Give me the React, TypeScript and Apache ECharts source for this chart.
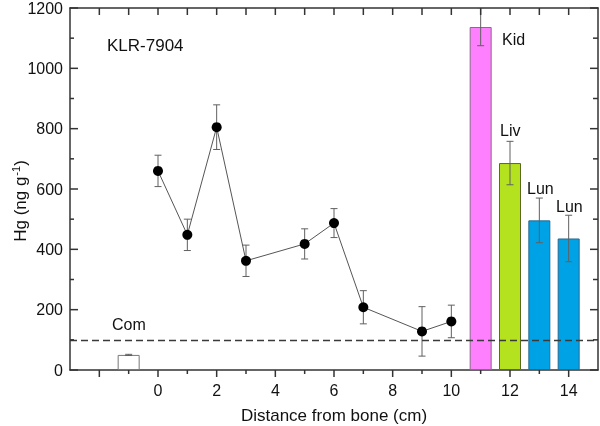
import React, { useEffect, useRef } from "react";
import * as echarts from "echarts";

const pointX = [0, 1, 2, 3, 5, 6, 7, 9, 10];
const pointY = [660, 448, 805, 362, 418, 487, 208, 128, 161];
const pointErr = [52, 52, 74, 52, 50, 48, 55, 82, 54];

const barX = [-1, 11, 12, 13, 14];
const barY = [50, 1137, 686, 496, 436];
const barErr = [2, 62, 72, 74, 77];
const barColors = ["#ffffff", "#ff80ff", "#b5e21e", "#00a2e6", "#00a2e6"];
const barBorders = ["#777777", "#8a6a8a", "#5a6a20", "#2a6a90", "#2a6a90"];

const refLine = 100;
const xMin = -3;
const xMax = 15;
const yMin = 0;
const yMax = 1200;
const xMajorTicks = [-2, 0, 2, 4, 6, 8, 10, 12, 14];
const xMinorTicks = [-1, 1, 3, 5, 7, 9, 11, 13];
const xLabels = [0, 2, 4, 6, 8, 10, 12, 14];
const xTopTicks = [-2, -1, 0, 1, 2, 3, 4, 5, 6, 7, 8, 9, 10, 11, 12, 13, 14];
const yMajorTicks = [0, 200, 400, 600, 800, 1000, 1200];
const yMinorTicks = [100, 300, 500, 700, 900, 1100];

const FONT = "Liberation Sans, Arial, sans-serif";
const AX = "#333333";

// tick anchors on the axes: [x, y, side (0 bottom, 1 top, 2 left, 3 right), length]
const tickData: number[][] = [
  ...xMajorTicks.map((v) => [v, yMin, 0, 7]),
  ...xMinorTicks.map((v) => [v, yMin, 0, 4]),
  ...xTopTicks.map((v) => [v, yMax, 1, 7]),
  ...yMajorTicks.map((v) => [xMin, v, 2, 8]),
  ...yMinorTicks.map((v) => [xMin, v, 2, 4]),
  ...yMajorTicks.map((v) => [xMax, v, 3, 8]),
  ...yMinorTicks.map((v) => [xMax, v, 3, 5]),
];

export default function App() {
  const ref = useRef<HTMLDivElement>(null);
  useEffect(() => {
    document.body.style.margin = "0";
    const chart = echarts.init(ref.current!, null, { renderer: "svg" });
    const errRender = (params: any, api: any) => {
      const x = api.value(0);
      const y = api.value(1);
      const e = api.value(2);
      const t = api.coord([x, y + e]);
      const b = api.coord([x, y - e]);
      const w = 3.5;
      const st = { stroke: "#606060", lineWidth: 1 };
      return {
        type: "group",
        children: [
          { type: "line", shape: { x1: t[0], y1: t[1], x2: b[0], y2: b[1] }, style: st },
          { type: "line", shape: { x1: t[0] - w, y1: t[1], x2: t[0] + w, y2: t[1] }, style: st },
          { type: "line", shape: { x1: b[0] - w, y1: b[1], x2: b[0] + w, y2: b[1] }, style: st },
        ],
      };
    };
    const tickRender = (params: any, api: any) => {
      const p = api.coord([api.value(0), api.value(1)]);
      const side = api.value(2);
      const len = api.value(3);
      const st = { stroke: AX, lineWidth: 1.5 };
      let x2 = p[0];
      let y2 = p[1];
      if (side === 0 || side === 1) y2 = p[1] + len;
      else if (side === 2) x2 = p[0] + len;
      else x2 = p[0] - len;
      return { type: "line", shape: { x1: p[0], y1: p[1], x2, y2 }, style: st };
    };
    const lineStyleAx = { color: AX, width: 1.5 };
    const option: any = {
      animation: false,
      grid: { left: 70, right: 2, top: 6, bottom: 56 },
      xAxis: [
        {
          type: "value",
          min: xMin,
          max: xMax,
          position: "bottom",
          axisLine: { show: true, onZero: false, lineStyle: lineStyleAx },
          splitLine: { show: false },
          axisTick: { show: false },
          axisLabel: { customValues: xLabels, fontSize: 16, color: "#111", margin: 12, fontFamily: FONT },
        },
        {
          type: "value",
          min: xMin,
          max: xMax,
          position: "top",
          axisLine: { show: true, onZero: false, lineStyle: lineStyleAx },
          splitLine: { show: false },
          axisTick: { show: false },
          axisLabel: { show: false },
        },
      ],
      yAxis: [
        {
          type: "value",
          min: yMin,
          max: yMax,
          interval: 200,
          position: "left",
          axisLine: { show: true, onZero: false, lineStyle: lineStyleAx },
          splitLine: { show: false },
          axisTick: { show: false },
          axisLabel: { fontSize: 16, color: "#111", margin: 7, fontFamily: FONT, formatter: (v: number) => String(v) },
        },
        {
          type: "value",
          min: yMin,
          max: yMax,
          interval: 200,
          position: "right",
          axisLine: { show: true, onZero: false, lineStyle: lineStyleAx },
          splitLine: { show: false },
          axisTick: { show: false },
          axisLabel: { show: false },
        },
      ],
      series: [
        {
          type: "bar",
          barWidth: 22,
          z: 2,
          data: barX.map((x, i) => ({
            value: [x, barY[i]],
            itemStyle: { color: barColors[i], borderColor: barBorders[i], borderWidth: 1 },
          })),
        },
        {
          type: "custom",
          z: 3,
          renderItem: errRender,
          encode: { x: 0, y: 1 },
          data: barX.map((x, i) => [x, barY[i], barErr[i]]),
        },
        {
          type: "custom",
          z: 3,
          renderItem: errRender,
          encode: { x: 0, y: 1 },
          data: pointX.map((x, i) => [x, pointY[i], pointErr[i]]),
        },
        {
          type: "line",
          z: 4,
          symbol: "circle",
          symbolSize: 10,
          itemStyle: { color: "#000" },
          lineStyle: { color: "#555", width: 1 },
          data: pointX.map((x, i) => [x, pointY[i]]),
          markLine: {
            silent: true,
            symbol: "none",
            label: { show: false },
            lineStyle: { color: "#3a3a3a", width: 1.3, type: [7, 4] },
            data: [{ yAxis: refLine }],
          },
        },
        {
          type: "custom",
          z: 5,
          silent: true,
          clip: false,
          renderItem: tickRender,
          encode: { x: 0, y: 1 },
          data: tickData,
        },
      ],
      graphic: [
        { type: "text", left: 107, top: 37, style: { text: "KLR-7904", fontSize: 17, fill: "#111", fontFamily: FONT } },
        { type: "text", left: 112, top: 316, style: { text: "Com", fontSize: 16, fill: "#111", fontFamily: FONT } },
        { type: "text", left: 502, top: 31, style: { text: "Kid", fontSize: 16, fill: "#111", fontFamily: FONT } },
        { type: "text", left: 500, top: 122, style: { text: "Liv", fontSize: 16, fill: "#111", fontFamily: FONT } },
        { type: "text", left: 527, top: 180, style: { text: "Lun", fontSize: 16, fill: "#111", fontFamily: FONT } },
        { type: "text", left: 556, top: 198, style: { text: "Lun", fontSize: 16, fill: "#111", fontFamily: FONT } },
        {
          type: "text",
          x: 334,
          y: 415,
          style: { text: "Distance from bone (cm)", fontSize: 17, fill: "#111", fontFamily: FONT, textAlign: "center", textVerticalAlign: "middle" },
        },
        {
          type: "text",
          x: 20,
          y: 201,
          rotation: Math.PI / 2,
          style: {
            text: "{a|Hg (ng g}{s|-1}{a|)}",
            textAlign: "center",
            textVerticalAlign: "middle",
            fill: "#111",
            fontFamily: FONT,
            rich: {
              a: { fontSize: 17, fontFamily: FONT, fill: "#111" },
              s: { fontSize: 11, fontFamily: FONT, fill: "#111", verticalAlign: "top", padding: [0, 0, 8, 1] },
            },
          },
        },
      ],
    };
    chart.setOption(option);
    return () => chart.dispose();
  }, []);
  return <div ref={ref} style={{ position: "fixed", left: 0, top: 0, width: 600, height: 426 }} />;
}
